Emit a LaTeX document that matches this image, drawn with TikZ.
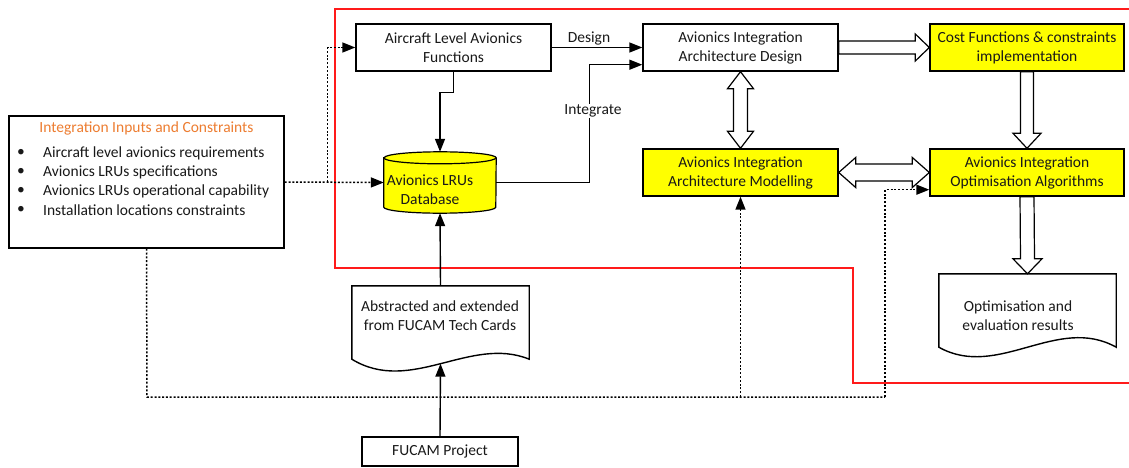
\documentclass[tikz,border=0pt]{standalone}
\usepackage{fontspec}
\setmainfont{Carlito}
\usetikzlibrary{arrows.meta,calc}
\definecolor{ttlorange}{HTML}{ED7D31}
\definecolor{boxyellow}{HTML}{FFFF00}
\definecolor{framered}{HTML}{FF1A1A}

\begin{document}
\begin{tikzpicture}[x=1pt,y=-1pt,
  every node/.style={font=\fontsize{15.5}{19}\selectfont, text=black!90},
  box/.style={draw, line width=1.4pt, minimum width=195, minimum height=47, inner sep=0pt, align=center},
  ybox/.style={box, fill=boxyellow},
  docarea/.style={minimum width=177, minimum height=73, inner sep=0pt},
  arr/.style={line width=1.4pt, -{Triangle[length=13pt,width=10pt]}},
  dotline/.style={line width=1.5pt, dash pattern=on 2pt off 1.8pt},
  dotarr/.style={dotline, -{Triangle[length=13pt,width=10pt]}},
  hollow/.style={draw, fill=white, line width=1.2pt, line join=miter},
  outline/.style={draw, line width=1.4pt, fill=white},
]
\useasboundingbox (0,0) rectangle (1129,468);
\fill[white] (0,0) rectangle (1129,468);

% red boundary of the integration framework
\draw[framered, line width=1.4pt] (1129,9) -- (335,9) -- (335,268) -- (853,268) -- (853,383) -- (1129,383);

% boxes
\node[box] (ala) at (453.5,47.5) {Aircraft Level Avionics\\Functions};
\node[box] (design) at (740.5,47.5) {Avionics Integration\\Architecture Design};
\node[ybox, minimum width=194] (cost) at (1027,47.5) {Cost Functions \& constraints\\implementation};
\node[ybox] (model) at (740.5,172.5) {Avionics Integration\\Architecture Modelling};
\node[ybox, minimum width=194] (opt) at (1027,172.5) {Avionics Integration\\Optimisation Algorithms};
\node[box, minimum width=156, minimum height=29] (fucam) at (440,451.5) {FUCAM Project};

% inputs and constraints box
\node[box, minimum width=275, minimum height=132] (inputs) at (146.5,182) {};
\node[text=ttlorange] (ttl) at (146.5,128) {Integration Inputs and Constraints};
\foreach \yy/\txt [count=\i] in {153/Aircraft level avionics requirements,
    172/Avionics LRUs specifications,
    191/Avionics LRUs operational capability,
    210/Installation locations constraints}{
  \node (bul\i) at (21,\yy) {\textbullet};
  \node[anchor=west, inner sep=0pt] (item\i) at (43,\yy) {\txt};
}

% LRU database cylinder
\node[minimum width=112, minimum height=61, inner sep=0pt] (db) at (440,182.5) {};
\path[draw, fill=boxyellow, line width=1.2pt]
  ($(db.north west)+(0,6)$) -- ($(db.south west)+(0,-6)$)
  arc[start angle=180, end angle=360, x radius=56pt, y radius=6pt]
  -- ($(db.north east)+(0,6)$)
  arc[start angle=0, end angle=180, x radius=56pt, y radius=6pt] -- cycle;
\draw[line width=1.2pt] ($(db.north west)+(0,6)$)
  arc[start angle=180, end angle=360, x radius=56pt, y radius=6pt];
\node[align=center, inner sep=0pt] (dbtext) at (430,189.5) {Avionics LRUs\\Database};

% document shapes
\node[docarea] (abs) at (440.5,322.5) {};
\draw[outline] (abs.north west) -- (abs.north east) -- (abs.south east)
  .. controls ($(abs.south east)+(-59,-24)$) and ($(abs.south west)+(59,36)$) .. (abs.south west) -- cycle;
\coordinate (abswave) at ($(abs.south)+(0,4.5)$);
\node[align=center, inner sep=0pt] (abstext) at (440,316) {Abstracted and extended\\from FUCAM Tech Cards};

\node[docarea] (res) at (1027.5,310.5) {};
\draw[outline] (res.north west) -- (res.north east) -- (res.south east)
  .. controls ($(res.south east)+(-59,-33)$) and ($(res.south west)+(59,33)$) .. (res.south west) -- cycle;
\node[align=center, inner sep=0pt] (restext) at (1018,316) {Optimisation and\\evaluation results};

% solid connectors
\draw[arr] (ala.east) -- (design.west);
\node (lbldesign) at (589,39) {Design};
\draw[arr] (ala.south) -- ++(0,21) -| (db.north);
\draw[arr] (db.east) -- ++(93,0) |- ($(design.south west)+(0,-7)$);
\node[fill=white, inner sep=1pt] (lblint) at (593,111) {Integrate};
\draw[arr] (abs.north) -- (db.south);
\draw[arr] (fucam.north) -- (abswave);

% dotted connectors
\coordinate (j1) at ($(inputs.east)+(43,0)$);
\draw[dotarr] (inputs.east) -- (db.west);
\draw[dotarr] (j1) |- (ala.west);
\coordinate (j2) at (147,397);
\coordinate (j3) at (885,397);
\coordinate (j4) at (740.5,397);
\draw[dotline] (inputs.south) -- (j2) -- (j3);
\draw[dotarr] (j3) |- ($(opt.south west)+(0,-7)$);
\draw[dotarr] (j4) -- (model.south);

% hollow block arrows
\draw[hollow] ($(design.east)+(0,-6.5)$) -- ($(cost.west)+(-14,-6.5)$) -- ($(cost.west)+(-14,-13.5)$)
  -- (cost.west) -- ($(cost.west)+(-14,13.5)$) -- ($(cost.west)+(-14,6.5)$) -- ($(design.east)+(0,6.5)$) -- cycle;
\draw[hollow] (design.south) -- ($(design.south)+(-13,17)$) -- ($(design.south)+(-7,17)$)
  -- ($(model.north)+(-7,-17)$) -- ($(model.north)+(-13,-17)$) -- (model.north)
  -- ($(model.north)+(13,-17)$) -- ($(model.north)+(7,-17)$)
  -- ($(design.south)+(7,17)$) -- ($(design.south)+(13,17)$) -- cycle;
\draw[hollow] ($(cost.south)+(-6.5,0)$) -- ($(opt.north)+(-6.5,-15)$) -- ($(opt.north)+(-14,-15)$)
  -- (opt.north) -- ($(opt.north)+(14,-15)$) -- ($(opt.north)+(6.5,-15)$) -- ($(cost.south)+(6.5,0)$) -- cycle;
\draw[hollow] (model.east) -- ($(model.east)+(17,-15)$) -- ($(model.east)+(17,-8.5)$)
  -- ($(opt.west)+(-17,-8.5)$) -- ($(opt.west)+(-17,-15)$) -- (opt.west)
  -- ($(opt.west)+(-17,15)$) -- ($(opt.west)+(-17,8.5)$)
  -- ($(model.east)+(17,8.5)$) -- ($(model.east)+(17,15)$) -- cycle;
\draw[hollow] ($(opt.south)+(-7,0)$) -- ($(res.north)+(-7,-15)$) -- ($(res.north)+(-14.5,-15)$)
  -- (res.north) -- ($(res.north)+(14.5,-15)$) -- ($(res.north)+(7,-15)$) -- ($(opt.south)+(7,0)$) -- cycle;
\end{tikzpicture}
\end{document}
